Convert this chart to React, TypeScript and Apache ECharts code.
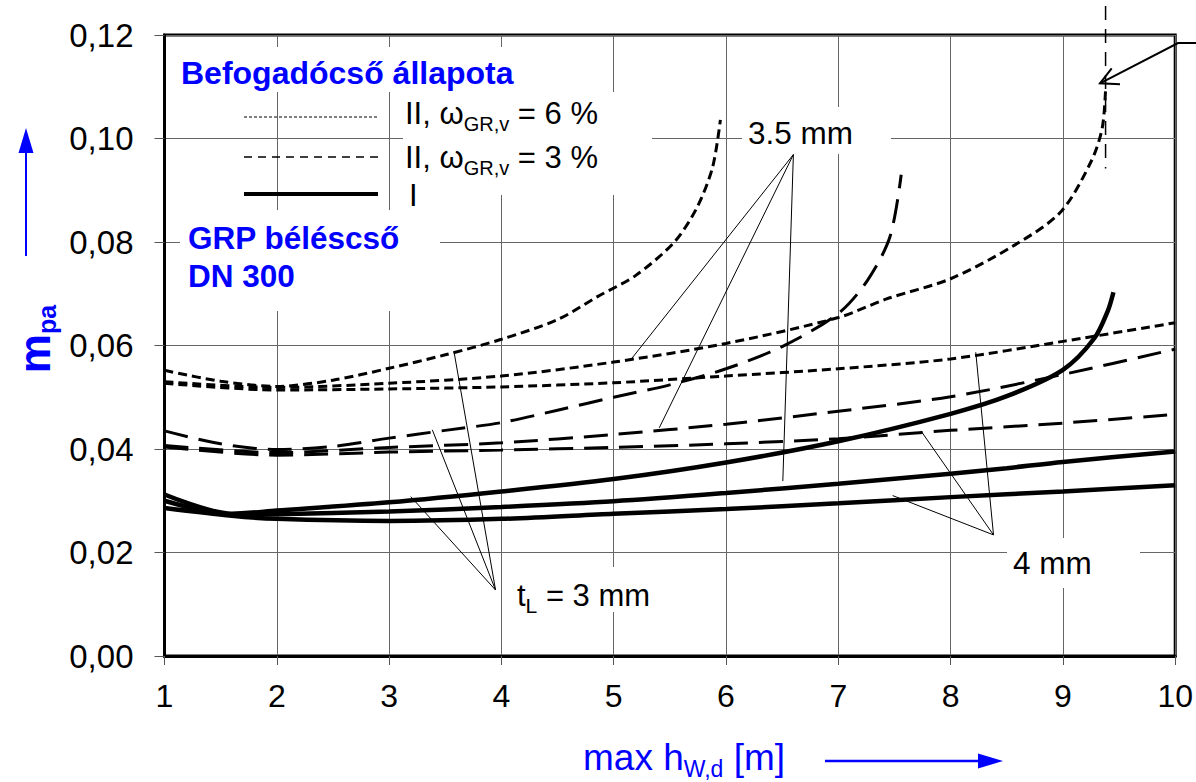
import React, { useEffect, useRef } from "react";
import * as echarts from "echarts";

type P = [number, number];

const FF = "'Liberation Sans', Arial, sans-serif";
const BLUE = "#0000ff";

// axes
const xMin = 1, xMax = 10, xStep = 1;
const yMin = 0, yMax = 0.12, yStep = 0.02;

// Befogadócső állapota II, ω_GR,v = 6 %  (dotted)
const tl3_w6: P[] = [[1, 0.0552], [1.5, 0.0531], [2, 0.0521], [2.5, 0.0533], [3, 0.0556], [3.5, 0.0582], [4, 0.0612], [4.5, 0.065], [4.86, 0.0695], [5.2, 0.0736], [5.54, 0.08], [5.74, 0.0866], [5.88, 0.0944], [5.95, 0.1036]];
const tl35_w6: P[] = [[1, 0.053], [2, 0.0519], [3, 0.0527], [4, 0.0541], [5, 0.0568], [6, 0.0604], [7, 0.0654], [7.43, 0.069], [8, 0.0729], [8.57, 0.0794], [8.98, 0.0858], [9.25, 0.0955], [9.35, 0.102], [9.38, 0.1095]];
const tl4_w6: P[] = [[1, 0.0527], [2, 0.0514], [3, 0.0516], [4, 0.052], [5, 0.0528], [6, 0.0541], [7, 0.0555], [8, 0.0574], [9, 0.0608], [10, 0.0644]];

// II, ω_GR,v = 3 %  (dashed)
const tl3_w3: P[] = [[1, 0.0435], [1.5, 0.041], [2, 0.0399], [2.5, 0.0405], [3, 0.0421], [3.5, 0.0436], [4, 0.0451], [4.5, 0.0475], [5, 0.05], [5.5, 0.0524], [6, 0.0555], [6.5, 0.0598], [7, 0.0662], [7.26, 0.0726], [7.46, 0.081], [7.56, 0.093]];
const tl35_w3: P[] = [[1, 0.0407], [2, 0.0393], [3, 0.0403], [4, 0.0412], [5, 0.0428], [6, 0.0448], [7, 0.0473], [8, 0.0501], [9, 0.0544], [10, 0.0593]];
const tl4_w3: P[] = [[1, 0.0404], [2, 0.0388], [3, 0.0394], [4, 0.0398], [5, 0.0403], [6, 0.041], [7, 0.042], [8, 0.0436], [9, 0.045], [10, 0.0467]];

// I  (solid)
const tl3_I: P[] = [[1, 0.0312], [1.6, 0.0275], [2, 0.0281], [3, 0.0297], [4, 0.0318], [5, 0.0342], [6, 0.0374], [7, 0.0415], [8, 0.0468], [8.5, 0.0502], [9, 0.0553], [9.28, 0.0614], [9.4, 0.0667], [9.45, 0.0703]];
const tl35_I: P[] = [[1, 0.03], [1.6, 0.0273], [2, 0.0274], [3, 0.0279], [4, 0.0288], [5, 0.0299], [6, 0.0315], [7, 0.0333], [8, 0.0352], [8.5, 0.0363], [9, 0.0375], [10, 0.0395]];
const tl4_I: P[] = [[1, 0.0286], [1.6, 0.0271], [2, 0.0265], [3, 0.0261], [4, 0.0265], [5, 0.0275], [6, 0.0284], [7, 0.0295], [8, 0.0307], [9, 0.0318], [10, 0.033]];

// leader lines (apex -> curve) for the thickness labels
const leaders3: P[][] = [[[3.948, 0.01275], [3.578, 0.0588]], [[3.948, 0.01275], [3.385, 0.0437]], [[3.948, 0.01275], [3.193, 0.0308]]];
const leaders35: P[][] = [[[6.6, 0.0969], [5.157, 0.0574]], [[6.6, 0.0969], [5.406, 0.0441]], [[6.6, 0.0969], [6.506, 0.0338]]];
const leaders4: P[][] = [[[8.382, 0.0234], [8.224, 0.0587]], [[8.382, 0.0234], [7.736, 0.0435]], [[8.382, 0.0234], [7.484, 0.031]]];
// asymptote marker
const asymptote: P[] = [[9.38, 0.1256], [9.38, 0.0942]];

const dotStyle = { color: "#000", width: 3, type: [9, 5] as number[] };
const dashStyle = { color: "#000", width: 3, type: [24, 11] as number[] };
const solidStyle = { color: "#000", width: 4.5, type: "solid" };

function curve(name: string, data: P[], style: any) {
  return {
    type: "line",
    name,
    data,
    showSymbol: false,
    symbol: "none",
    smooth: 0.3,
    lineStyle: style,
    z: 3,
    silent: true,
  };
}

function thin(data: P[]) {
  return {
    type: "line",
    data,
    showSymbol: false,
    symbol: "none",
    lineStyle: { color: "#000", width: 1 },
    z: 4,
    silent: true,
  };
}

const mask = (x: number, y: number, w: number, h: number) => ({
  type: "rect",
  z: 1,
  shape: { x, y, width: w, height: h },
  style: { fill: "#fff" },
  silent: true,
});

const subRich = (size: number) => ({
  main: { fontSize: 31, fontFamily: FF, fill: "#000", lineHeight: 42 },
  sub: { fontSize: size, fontFamily: FF, fill: "#000", lineHeight: size, verticalAlign: "bottom" },
});

export default function App() {
  const ref = useRef<HTMLDivElement>(null);
  useEffect(() => {
    if (!ref.current) return;
    const chart = echarts.init(ref.current, undefined, { renderer: "svg" });
    const option: any = {
      animation: false,
      backgroundColor: "#fff",
      grid: {
        left: 164.5,
        right: 18,
        top: 35,
        bottom: 126,
        show: true,
        borderColor: "#000",
        borderWidth: 3,
        backgroundColor: "transparent",
      },
      xAxis: {
        type: "value",
        min: xMin,
        max: xMax,
        interval: xStep,
        axisLine: { show: true, onZero: false, lineStyle: { color: "#000", width: 3 } },
        axisTick: { show: true, length: 9, lineStyle: { color: "#555", width: 1 } },
        axisLabel: { fontSize: 32, fontFamily: FF, color: "#000", margin: 24 },
        splitLine: { show: true, lineStyle: { color: "#666", width: 1 } },
      },
      yAxis: {
        type: "value",
        min: yMin,
        max: yMax,
        interval: yStep,
        axisLine: { show: true, onZero: false, lineStyle: { color: "#000", width: 3 } },
        axisTick: { show: true, length: 10, lineStyle: { color: "#555", width: 1 } },
        axisLabel: {
          fontSize: 33,
          fontFamily: FF,
          color: "#000",
          margin: 31,
          formatter: (v: number) => v.toFixed(2).replace(".", ","),
        },
        splitLine: { show: true, lineStyle: { color: "#666", width: 1 } },
      },
      series: [
        curve("tL=3 mm, II 6%", tl3_w6, dotStyle),
        curve("tL=3.5 mm, II 6%", tl35_w6, dotStyle),
        curve("tL=4 mm, II 6%", tl4_w6, dotStyle),
        curve("tL=3 mm, II 3%", tl3_w3, dashStyle),
        curve("tL=3.5 mm, II 3%", tl35_w3, dashStyle),
        curve("tL=4 mm, II 3%", tl4_w3, dashStyle),
        curve("tL=3 mm, I", tl3_I, solidStyle),
        curve("tL=3.5 mm, I", tl35_I, solidStyle),
        curve("tL=4 mm, I", tl4_I, solidStyle),
        ...leaders3.map(thin),
        ...leaders35.map(thin),
        ...leaders4.map(thin),
        {
          type: "line",
          data: asymptote,
          showSymbol: false,
          symbol: "none",
          clip: false,
          lineStyle: { color: "#000", width: 1.5, type: [14, 9] },
          z: 4,
          silent: true,
        },
      ],
      graphic: [
        // white boxes behind the labels
        mask(172, 47, 428, 45),
        mask(403, 92, 249, 103),
        mask(180, 210, 260, 101),
        mask(742, 107, 149, 47),
        mask(505, 567, 175, 45),
        mask(1007, 538, 133, 50),
        // legend title
        {
          type: "text", z: 5, x: 181, y: 73,
          style: { text: "Befogadócső állapota", fontSize: 32, fontWeight: "bold", fontFamily: FF, fill: BLUE, align: "left", verticalAlign: "middle" },
        },
        // legend samples
        { type: "line", z: 5, shape: { x1: 244, y1: 117, x2: 378, y2: 117 }, style: { stroke: "#000", lineWidth: 1, lineDash: [3, 2] } },
        { type: "line", z: 5, shape: { x1: 244, y1: 157, x2: 378, y2: 157 }, style: { stroke: "#000", lineWidth: 1.7, lineDash: [8, 6] } },
        { type: "line", z: 5, shape: { x1: 244, y1: 194, x2: 378, y2: 194 }, style: { stroke: "#000", lineWidth: 4 } },
        {
          type: "text", z: 5, x: 405, y: 113,
          style: { text: "{main|II, ω}{sub|GR,v}{main| = 6 %}", align: "left", verticalAlign: "middle", rich: subRich(20) },
        },
        {
          type: "text", z: 5, x: 405, y: 157,
          style: { text: "{main|II, ω}{sub|GR,v}{main| = 3 %}", align: "left", verticalAlign: "middle", rich: subRich(20) },
        },
        {
          type: "text", z: 5, x: 409, y: 195,
          style: { text: "I", fontSize: 31, fontFamily: FF, fill: "#000", align: "left", verticalAlign: "middle" },
        },
        // GRP béléscső DN 300
        {
          type: "text", z: 5, x: 188, y: 238,
          style: { text: "GRP béléscső", fontSize: 31.5, fontWeight: "bold", fontFamily: FF, fill: BLUE, align: "left", verticalAlign: "middle" },
        },
        {
          type: "text", z: 5, x: 188, y: 276,
          style: { text: "DN 300", fontSize: 31.5, fontWeight: "bold", fontFamily: FF, fill: BLUE, align: "left", verticalAlign: "middle" },
        },
        // thickness labels
        {
          type: "text", z: 5, x: 748, y: 133,
          style: { text: "3.5 mm", fontSize: 31.5, fontFamily: FF, fill: "#000", align: "left", verticalAlign: "middle" },
        },
        {
          type: "text", z: 5, x: 517, y: 595,
          style: { text: "{main|t}{sub|L}{main| = 3 mm}", align: "left", verticalAlign: "middle", rich: subRich(21) },
        },
        {
          type: "text", z: 5, x: 1013, y: 563,
          style: { text: "4 mm", fontSize: 31.5, fontFamily: FF, fill: "#000", align: "left", verticalAlign: "middle" },
        },
        // pointer arrow at top right
        { type: "polyline", z: 5, shape: { points: [[1196, 43], [1178, 43], [1100, 83.3]] }, style: { stroke: "#000", lineWidth: 2, fill: null } },
        { type: "polyline", z: 5, shape: { points: [[1111.7, 68.3], [1100, 83.3], [1120, 84.3]] }, style: { stroke: "#000", lineWidth: 2, fill: null } },
        // y axis title + arrow
        {
          type: "text", z: 5, x: 34, y: 339, rotation: Math.PI / 2,
          style: {
            text: "{m|m}{s|pa}", align: "center", verticalAlign: "middle",
            rich: {
              m: { fontSize: 44, fontWeight: "bold", fontFamily: FF, fill: BLUE, lineHeight: 50 },
              s: { fontSize: 25, fontWeight: "bold", fontFamily: FF, fill: BLUE, lineHeight: 25, verticalAlign: "bottom" },
            },
          },
        },
        { type: "line", z: 5, shape: { x1: 26, y1: 256, x2: 26, y2: 150 }, style: { stroke: BLUE, lineWidth: 2 } },
        { type: "polygon", z: 5, shape: { points: [[26, 128], [18.5, 153], [33.5, 153]] }, style: { fill: BLUE } },
        // x axis title + arrow
        {
          type: "text", z: 5, x: 583, y: 757,
          style: {
            text: "{m|max h}{s|W,d}{m| [m]}", align: "left", verticalAlign: "middle",
            rich: {
              m: { fontSize: 37, fontFamily: FF, fill: BLUE, lineHeight: 46 },
              s: { fontSize: 23, fontFamily: FF, fill: BLUE, lineHeight: 23, verticalAlign: "bottom" },
            },
          },
        },
        { type: "line", z: 5, shape: { x1: 825, y1: 761, x2: 982, y2: 761 }, style: { stroke: BLUE, lineWidth: 2.5 } },
        { type: "polygon", z: 5, shape: { points: [[1003, 761], [978, 753.5], [978, 768.5]] }, style: { fill: BLUE } },
      ],
    };
    chart.setOption(option);
    return () => chart.dispose();
  }, []);
  return (
    <div
      ref={ref}
      style={{ position: "fixed", left: 0, top: 0, width: 1196, height: 782, background: "#fff" }}
    />
  );
}
